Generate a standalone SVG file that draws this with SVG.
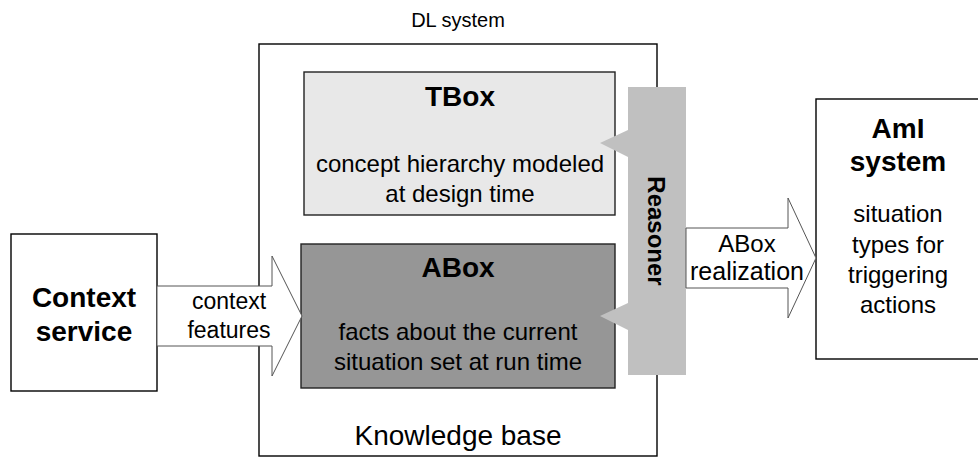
<svg xmlns="http://www.w3.org/2000/svg" width="978" height="462" viewBox="0 0 978 462">
<style>
text{font-family:"Liberation Sans",Arial,sans-serif;fill:#000}
.t{font-size:28px;font-weight:bold;text-anchor:middle}
.b{font-size:24px;text-anchor:middle}
.box{stroke:#000;stroke-width:1.4}
.arr{fill:#fff;stroke:#555;stroke-width:1}
</style>
<rect width="978" height="462" fill="#fff"/>
<g id="dl-system">
<rect class="box" x="259" y="44" width="398" height="412" fill="#fff"/>
<text x="458" y="27" style="font-size:20px;text-anchor:middle">DL system</text>
<text x="458" y="445" style="font-size:28px;text-anchor:middle">Knowledge base</text>
</g>
<g id="context-service">
<rect class="box" x="11" y="234" width="146" height="157" fill="#fff"/>
<text class="t" x="84" y="307">Context</text>
<text class="t" x="84" y="341">service</text>
</g>
<g id="tbox">
<rect x="304" y="72" width="311" height="143" fill="#e8e8e8" stroke="#222" stroke-width="1.4"/>
<text class="t" x="460" y="106">TBox</text>
<text class="b" x="460" y="172">concept hierarchy modeled</text>
<text class="b" x="460" y="202">at design time</text>
</g>
<g id="abox">
<rect x="301" y="244" width="314" height="144" fill="#969696" stroke="#222" stroke-width="1.4"/>
<text class="t" x="458" y="277">ABox</text>
<text class="b" x="458" y="340">facts about the current</text>
<text class="b" x="458" y="370">situation set at run time</text>
</g>
<g id="reasoner">
<rect x="628" y="87" width="58" height="288" fill="#c0c0c0"/>
<polygon points="628,130 600,143 628,157" fill="#c0c0c0"/>
<polygon points="628,303 600,316 628,330" fill="#c0c0c0"/>
<text transform="translate(656,231) rotate(90)" x="0" y="8" style="font-size:24px;font-weight:bold;text-anchor:middle">Reasoner</text>
</g>
<g id="ami-system">
<rect class="box" x="816" y="99" width="170" height="260" fill="#fff"/>
<text class="t" x="898" y="138">AmI</text>
<text class="t" x="898" y="171">system</text>
<text class="b" x="898" y="222">situation</text>
<text class="b" x="898" y="253">types for</text>
<text class="b" x="898" y="283">triggering</text>
<text class="b" x="898" y="313">actions</text>
</g>
<g id="connectors">
<polygon class="arr" points="157,286 272,286 272,256 302,316 272,376 272,346 157,346"/>
<text x="229" y="309" style="font-size:23px;text-anchor:middle">context</text>
<text x="229" y="338" style="font-size:23px;text-anchor:middle">features</text>
<polygon class="arr" points="686,228 788,228 788,198 816,258 788,318 788,288 686,288"/>
<text x="747" y="252" style="font-size:24px;text-anchor:middle">ABox</text>
<text x="747" y="280" style="font-size:25px;text-anchor:middle">realization</text>
</g>
</svg>
